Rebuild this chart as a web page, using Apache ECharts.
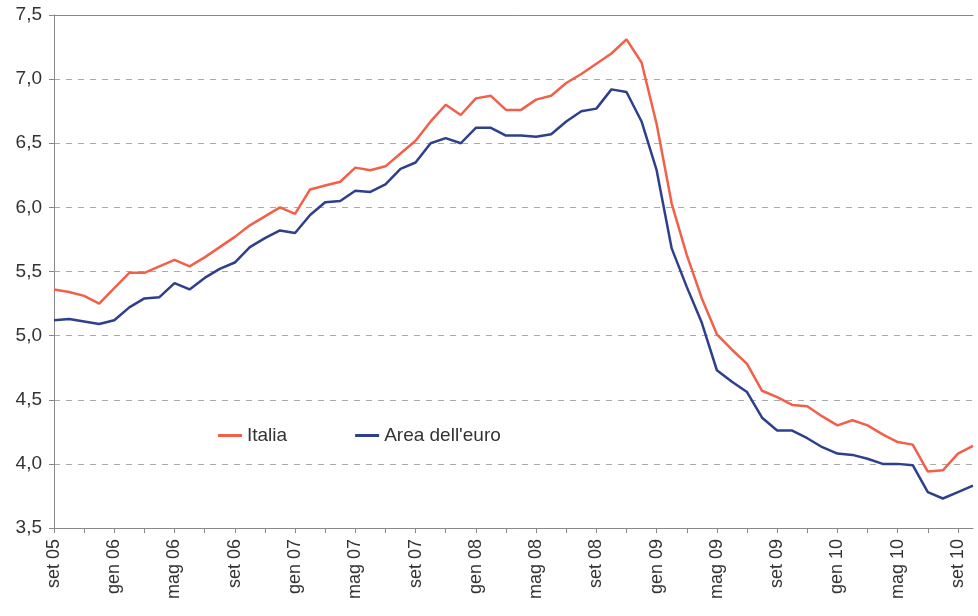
<!DOCTYPE html>
<html>
<head>
<meta charset="utf-8">
<script src="https://cdn.jsdelivr.net/npm/echarts@6/dist/echarts.min.js"></script>
<style>
  html, body { margin: 0; padding: 0; background: #fff; }
  #tassiChart { width: 978px; height: 616px; }
</style>
</head>
<body>
<div id="tassiChart"></div>
<script>
  // mesi da set 05 a ott 10
  const mesi = [
    'set 05', 'ott 05', 'nov 05', 'dic 05',
    'gen 06', 'feb 06', 'mar 06', 'apr 06', 'mag 06', 'giu 06', 'lug 06', 'ago 06', 'set 06', 'ott 06', 'nov 06', 'dic 06',
    'gen 07', 'feb 07', 'mar 07', 'apr 07', 'mag 07', 'giu 07', 'lug 07', 'ago 07', 'set 07', 'ott 07', 'nov 07', 'dic 07',
    'gen 08', 'feb 08', 'mar 08', 'apr 08', 'mag 08', 'giu 08', 'lug 08', 'ago 08', 'set 08', 'ott 08', 'nov 08', 'dic 08',
    'gen 09', 'feb 09', 'mar 09', 'apr 09', 'mag 09', 'giu 09', 'lug 09', 'ago 09', 'set 09', 'ott 09', 'nov 09', 'dic 09',
    'gen 10', 'feb 10', 'mar 10', 'apr 10', 'mag 10', 'giu 10', 'lug 10', 'ago 10', 'set 10', 'ott 10'
  ]

  const italia = [
    5.36, 5.34, 5.31, 5.25, 5.37, 5.49, 5.49, 5.54, 5.59, 5.54,
    5.61, 5.69, 5.77, 5.86, 5.93, 6.00, 5.95, 6.14, 6.17, 6.20,
    6.31, 6.29, 6.32, 6.42, 6.52, 6.67, 6.80, 6.72, 6.85, 6.87,
    6.76, 6.76, 6.84, 6.87, 6.97, 7.04, 7.12, 7.20, 7.31, 7.13,
    6.65, 6.03, 5.63, 5.29, 5.01, 4.89, 4.78, 4.57, 4.52, 4.46,
    4.45, 4.37, 4.30, 4.34, 4.30, 4.23, 4.17, 4.15, 3.94, 3.95,
    4.08, 4.14
  ]

  const areaEuro = [
    5.12, 5.13, 5.11, 5.09, 5.12, 5.22, 5.29, 5.30, 5.41, 5.36,
    5.45, 5.52, 5.57, 5.69, 5.76, 5.82, 5.80, 5.94, 6.04, 6.05,
    6.13, 6.12, 6.18, 6.30, 6.35, 6.50, 6.54, 6.50, 6.62, 6.62,
    6.56, 6.56, 6.55, 6.57, 6.67, 6.75, 6.77, 6.92, 6.90, 6.67,
    6.29, 5.68, 5.38, 5.10, 4.73, 4.64, 4.56, 4.36, 4.26, 4.26,
    4.20, 4.13, 4.08, 4.07, 4.04, 4.00, 4.00, 3.99, 3.78, 3.73,
    3.78, 3.83
  ]

  const nomiSerie = ['Italia', "Area dell'euro"]

  const font = '"Liberation Sans", Arial, sans-serif'
  const chart = echarts.init(document.getElementById('tassiChart'))

  const option = {
    animation: false,
    textStyle: { fontFamily: font },
    grid: { left: 54, right: 5, top: 15, bottom: 88 },
    legend: {
      data: nomiSerie,
      left: 213,
      top: 421,
      icon: 'rect',
      itemWidth: 24,
      itemHeight: 3,
      itemGap: 68,
      textStyle: { fontSize: 19, color: '#333', fontFamily: font }
    },
    xAxis: [
      {
        type: 'category',
        data: mesi,
        boundaryGap: false,
        axisLine: { lineStyle: { color: '#888', width: 1 } },
        axisTick: { interval: 1, length: 5, lineStyle: { color: '#888' } },
        axisLabel: {
          interval: 3,
          rotate: 90,
          margin: 11,
          fontSize: 18,
          color: '#333'
        },
        splitLine: { show: false }
      },
      {
        // solo la linea di bordo in alto
        type: 'category',
        data: mesi,
        position: 'top',
        boundaryGap: false,
        axisLine: { lineStyle: { color: '#888', width: 1 } },
        axisTick: { show: false },
        axisLabel: { show: false }
      }
    ],
    yAxis: {
      type: 'value',
      min: 3.5,
      max: 7.5,
      interval: 0.5,
      axisLine: { show: true, lineStyle: { color: '#888', width: 1 } },
      axisTick: { show: true, length: 5, lineStyle: { color: '#888' } },
      axisLabel: {
        margin: 12,
        fontSize: 19,
        color: '#333',
        formatter: function (v) { return v.toFixed(1).replace('.', ',') }
      },
      splitLine: {
        lineStyle: { color: '#aaa', type: [6, 6], width: 1 }
      }
    },
    series: [
      {
        name: nomiSerie[0],
        type: 'line',
        data: italia,
        showSymbol: false,
        color: '#f2604a',
        lineStyle: { width: 2.5, color: '#f2604a' }
      },
      {
        name: nomiSerie[1],
        type: 'line',
        data: areaEuro,
        showSymbol: false,
        color: '#2e3f8c',
        lineStyle: { width: 2.5, color: '#2e3f8c' }
      }
    ]
  }

  chart.setOption(option)
</script>
</body>
</html>
